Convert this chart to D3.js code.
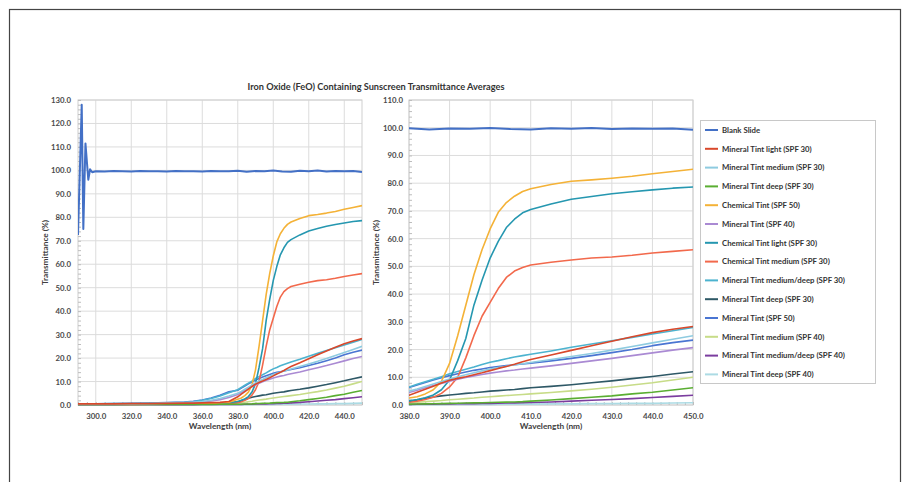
<!DOCTYPE html>
<html>
<head>
<meta charset="utf-8">
<script src="https://cdn.jsdelivr.net/npm/d3@7"></script>
<style>
  body { margin: 0; background: #fff; }
  svg { display: block; font-family: Lato, "Open Sans", sans-serif; }
</style>
</head>
<body>
<svg id="chart" width="912" height="482"></svg>
<script>
// === DATA ===
const wavelengths = [290, 300, 310, 320, 330, 340, 350, 355, 360, 365, 370, 375, 380, 382, 384, 386, 388, 390, 392, 394, 396, 398, 400, 402, 404, 406, 408, 410, 415, 420, 425, 430, 435, 440, 445, 450];

const blankWavelengths = [290, 292.1, 293, 294.2, 295.8, 296.8, 298, 300, 305, 310, 315, 320, 325, 330, 335, 340, 345, 350, 355, 360, 365, 370, 375, 380, 385, 390, 395, 400, 405, 410, 415, 420, 425, 430, 435, 440, 445, 450];
const blankSlide = [72.5, 128, 75, 111.5, 96, 100.5, 99.2, 99.6, 99.5, 99.7, 99.6, 99.5, 99.7, 99.6, 99.6, 99.5, 99.7, 99.6, 99.6, 99.5, 99.7, 99.6, 99.6, 99.8, 99.4, 99.7, 99.6, 99.9, 99.5, 99.4, 99.8, 99.6, 99.9, 99.5, 99.7, 99.6, 99.7, 99.3];

const mineralLight30   = [0.5, 0.5, 0.5, 0.6, 0.6, 0.7, 0.8, 0.8, 0.9, 1.0, 1.1, 1.5, 3.5, 4.6, 5.7, 6.8, 7.9, 8.9, 9.6, 10.2, 10.9, 11.6, 12.4, 13.2, 13.9, 14.7, 15.6, 16.4, 18.0, 19.7, 21.4, 23.0, 24.6, 26.1, 27.3, 28.3];
const mineralMedium30  = [0.4, 0.4, 0.5, 0.5, 0.6, 0.8, 1.0, 1.2, 1.5, 2.0, 2.8, 3.8, 5.0, 5.8, 6.7, 7.6, 8.5, 9.4, 10.2, 10.9, 11.6, 12.3, 13.0, 13.5, 14.0, 14.5, 14.9, 15.3, 16.4, 17.5, 18.6, 19.8, 21.1, 22.4, 23.7, 25.0];
const mineralDeep30    = [0.2, 0.2, 0.2, 0.2, 0.2, 0.2, 0.2, 0.2, 0.2, 0.2, 0.3, 0.3, 0.3, 0.35, 0.4, 0.45, 0.5, 0.6, 0.65, 0.7, 0.75, 0.8, 0.9, 1.0, 1.05, 1.1, 1.2, 1.4, 1.8, 2.3, 2.8, 3.3, 4.0, 4.6, 5.4, 6.2];
const chemical50       = [0.3, 0.3, 0.3, 0.3, 0.4, 0.4, 0.5, 0.5, 0.6, 0.7, 0.9, 1.2, 2.5, 3.0, 4.0, 5.5, 8.5, 15, 25, 36, 47, 56, 63.5, 69.5, 73, 75.3, 77, 78, 79.5, 80.7, 81.2, 81.8, 82.5, 83.4, 84.2, 85];
const mineral40        = [0.4, 0.4, 0.4, 0.5, 0.5, 0.7, 0.9, 1.1, 1.3, 1.7, 2.3, 3.2, 4.5, 5.3, 6.2, 7.0, 7.8, 8.6, 9.3, 9.9, 10.5, 11.0, 11.5, 11.9, 12.3, 12.6, 13.0, 13.3, 14.1, 15.0, 15.9, 16.8, 17.8, 18.8, 19.8, 20.7];
const chemicalLight30  = [0.2, 0.2, 0.2, 0.3, 0.3, 0.3, 0.4, 0.4, 0.5, 0.6, 0.7, 1.0, 1.5, 2.0, 2.6, 3.6, 5.5, 9, 16, 24, 36, 45, 53, 59, 64, 67, 69.3, 70.5, 72.5, 74.2, 75.2, 76.2, 76.9, 77.6, 78.2, 78.6];
const chemicalMedium30 = [0.2, 0.2, 0.2, 0.2, 0.3, 0.3, 0.3, 0.4, 0.4, 0.5, 0.6, 0.8, 1.0, 1.4, 2.0, 2.8, 4.2, 6.5, 10, 17, 25, 32, 37, 42, 46, 48.3, 49.6, 50.5, 51.5, 52.3, 53, 53.4, 54, 54.8, 55.4, 56];
const mineralMedDeep30 = [0.5, 0.5, 0.6, 0.6, 0.7, 0.9, 1.2, 1.5, 2.0, 2.8, 3.8, 5.2, 6.5, 7.5, 8.4, 9.3, 10.2, 11.3, 12.1, 12.9, 13.7, 14.6, 15.4, 16.0, 16.7, 17.3, 17.8, 18.3, 19.5, 20.8, 22.0, 23.2, 24.4, 25.6, 26.8, 28.0];
const mineralDeep30b   = [0.3, 0.3, 0.3, 0.3, 0.3, 0.3, 0.4, 0.4, 0.4, 0.5, 0.5, 0.7, 1.2, 1.8, 2.4, 2.9, 3.3, 3.6, 3.9, 4.2, 4.4, 4.7, 5.0, 5.2, 5.4, 5.6, 5.9, 6.2, 6.7, 7.3, 8.0, 8.7, 9.5, 10.3, 11.2, 12.0];
const mineral50        = [0.5, 0.5, 0.6, 0.7, 0.8, 1.0, 1.3, 1.6, 2.1, 3.0, 4.2, 5.6, 6.3, 7.2, 8.1, 9.0, 9.8, 10.6, 11.3, 11.9, 12.5, 13.0, 13.5, 13.9, 14.2, 14.5, 14.8, 15.1, 15.9, 16.8, 17.8, 18.9, 20.0, 21.4, 22.5, 23.4];
const mineralMedium40  = [0.2, 0.2, 0.2, 0.2, 0.2, 0.3, 0.3, 0.3, 0.3, 0.4, 0.4, 0.5, 0.8, 1.0, 1.2, 1.4, 1.6, 1.9, 2.1, 2.3, 2.5, 2.8, 3.0, 3.2, 3.4, 3.6, 3.8, 4.0, 4.5, 5.1, 5.7, 6.4, 7.2, 8.0, 9.0, 10.0];
const mineralMedDeep40 = [0.1, 0.1, 0.1, 0.1, 0.1, 0.1, 0.1, 0.1, 0.2, 0.2, 0.2, 0.2, 0.2, 0.25, 0.3, 0.3, 0.35, 0.4, 0.45, 0.5, 0.5, 0.55, 0.6, 0.65, 0.7, 0.75, 0.8, 0.9, 1.1, 1.4, 1.7, 2.0, 2.3, 2.7, 3.1, 3.5];
const mineralDeep40    = [0.1, 0.1, 0.1, 0.1, 0.1, 0.1, 0.1, 0.1, 0.1, 0.1, 0.1, 0.1, 0.1, 0.1, 0.1, 0.1, 0.1, 0.2, 0.2, 0.2, 0.2, 0.2, 0.2, 0.3, 0.3, 0.3, 0.3, 0.3, 0.4, 0.4, 0.5, 0.5, 0.6, 0.6, 0.7, 0.8];

const seriesNames = [
  "Blank Slide", "Mineral Tint light (SPF 30)", "Mineral Tint medium (SPF 30)", "Mineral Tint deep (SPF 30)",
  "Chemical Tint (SPF 50)", "Mineral Tint (SPF 40)", "Chemical Tint light (SPF 30)", "Chemical Tint medium (SPF 30)",
  "Mineral Tint medium/deep (SPF 30)", "Mineral Tint deep (SPF 30)", "Mineral Tint (SPF 50)", "Mineral Tint medium (SPF 40)",
  "Mineral Tint medium/deep (SPF 40)", "Mineral Tint deep (SPF 40)"
];
const seriesColors = [
  "#4370c6", "#d9482b", "#8ecbe0", "#5aae32", "#f4b237", "#aa8ad3", "#2597b0", "#f2694c",
  "#4cb3cf", "#2e5866", "#4a75d2", "#c7dc88", "#7b3d9f", "#acdbe4"
];
const seriesValues = [
  blankSlide, mineralLight30, mineralMedium30, mineralDeep30, chemical50, mineral40, chemicalLight30, chemicalMedium30,
  mineralMedDeep30, mineralDeep30b, mineral50, mineralMedium40, mineralMedDeep40, mineralDeep40
];

const leftXTicks = [300, 320, 340, 360, 380, 400, 420, 440];
const rightXTicks = [380, 390, 400, 410, 420, 430, 440, 450];
const chartTitle = "Iron Oxide (FeO) Containing Sunscreen Transmittance Averages";
const xTitle = "Wavelength (nm)";
const yTitle = "Transmittance (%)";

// pair each series with its x-values
const series = seriesNames.map((name, i) => ({
  name: name,
  color: seriesColors[i],
  points: seriesValues[i].map((v, j) => ({ w: i === 0 ? blankWavelengths[j] : wavelengths[j], v: v }))
}));

const svg = d3.select("#chart");

// === outer frame ===
svg.append("rect")
  .attr("x", 9.5).attr("y", 9.5)
  .attr("width", 891).attr("height", 490)
  .attr("fill", "none")
  .attr("stroke", "#444")
  .attr("stroke-width", 1.2);

// === title ===
svg.append("text")
  .attr("x", 376).attr("y", 90)
  .attr("text-anchor", "middle")
  .attr("font-size", "9.2px")
  .attr("font-weight", "bold")
  .attr("fill", "#333")
  .text(chartTitle);

function renderPanel(opts) {
  const x = d3.scaleLinear().domain(opts.xDomain).range([opts.left, opts.right]);
  const y = d3.scaleLinear().domain(opts.yDomain).range([opts.bottom, opts.top]);
  const g = svg.append("g");

  const clipId = "clip-" + opts.id;
  g.append("clipPath").attr("id", clipId)
    .append("rect")
    .attr("x", opts.left).attr("y", opts.top - 2)
    .attr("width", opts.right - opts.left).attr("height", opts.bottom - opts.top + 4);

  // grid
  g.append("g").selectAll("line")
    .data(opts.xTicks)
    .join("line")
    .attr("x1", d => x(d)).attr("x2", d => x(d))
    .attr("y1", opts.top).attr("y2", opts.bottom)
    .attr("stroke", "#dcdcdc");

  g.append("g").selectAll("line")
    .data(d3.range(opts.yDomain[0], opts.yDomain[1] + 1, 10))
    .join("line")
    .attr("x1", opts.left).attr("x2", opts.right)
    .attr("y1", d => y(d)).attr("y2", d => y(d))
    .attr("stroke", "#dcdcdc");

  g.append("rect")
    .attr("x", opts.left).attr("y", opts.top)
    .attr("width", opts.right - opts.left).attr("height", opts.bottom - opts.top)
    .attr("fill", "none")
    .attr("stroke", "#cfcfcf");

  // minor ticks
  const xMinor = g.append("g")
    .attr("transform", `translate(0, ${opts.bottom})`)
    .call(d3.axisBottom(x).tickValues(d3.range(opts.xDomain[0], opts.xDomain[1] + 0.01, opts.xMinorStep)).tickSize(-3).tickFormat(""));
  xMinor.select(".domain").remove();
  xMinor.selectAll("line").attr("stroke", "#bdbdbd");

  const yMinor = g.append("g")
    .attr("transform", `translate(${opts.left}, 0)`)
    .call(d3.axisLeft(y).tickValues(d3.range(opts.yDomain[0], opts.yDomain[1] + 0.01, 2)).tickSize(-3).tickFormat(""));
  yMinor.select(".domain").remove();
  yMinor.selectAll("line").attr("stroke", "#bdbdbd");

  // axes labels
  const xAxis = g.append("g")
    .attr("transform", `translate(0, ${opts.bottom})`)
    .call(d3.axisBottom(x).tickValues(opts.xTicks).tickSize(0).tickPadding(8).tickFormat(d3.format(".1f")));
  xAxis.select(".domain").remove();

  const yAxis = g.append("g")
    .attr("transform", `translate(${opts.left}, 0)`)
    .call(d3.axisLeft(y).tickValues(d3.range(opts.yDomain[0], opts.yDomain[1] + 1, 10)).tickSize(0).tickPadding(opts.yPad).tickFormat(d3.format(".1f")));
  yAxis.select(".domain").remove();

  g.selectAll(".tick text")
    .attr("font-family", "Lato, 'Open Sans', sans-serif")
    .attr("font-size", "7.8px")
    .attr("font-weight", "bold")
    .attr("fill", "#4a4a4a");

  // axis titles
  g.append("text")
    .attr("x", (opts.left + opts.right) / 2)
    .attr("y", opts.bottom + 24)
    .attr("text-anchor", "middle")
    .attr("font-size", "8.3px")
    .attr("font-weight", "bold")
    .attr("fill", "#404040")
    .text(xTitle);

  g.append("text")
    .attr("transform", `translate(${opts.yTitleX}, ${(opts.top + opts.bottom) / 2}) rotate(-90)`)
    .attr("text-anchor", "middle")
    .attr("dy", "0.35em")
    .attr("font-size", "8.3px")
    .attr("font-weight", "bold")
    .attr("fill", "#404040")
    .text(yTitle);

  // lines
  const linePath = d3.line()
    .x(d => x(d.w))
    .y(d => y(d.v));

  g.append("g")
    .attr("clip-path", `url(#${clipId})`)
    .selectAll("path")
    .data(series.slice().reverse())
    .join("path")
    .attr("d", d => linePath(d.points))
    .attr("fill", "none")
    .attr("stroke", d => d.color)
    .attr("stroke-width", d => d.name === "Blank Slide" ? 2 : 1.6)
    .attr("stroke-linejoin", "round");
}

renderPanel({ id: "left", xDomain: [290, 450], yDomain: [0, 130], left: 78, right: 362, top: 100, bottom: 405,
  xTicks: leftXTicks, xMinorStep: 5, yPad: 7, yTitleX: 45 });

renderPanel({ id: "right", xDomain: [380, 450], yDomain: [0, 110], left: 409, right: 693, top: 100, bottom: 405,
  xTicks: rightXTicks, xMinorStep: 2, yPad: 6, yTitleX: 376 });

// === legend ===
const legend = svg.append("g");
legend.append("rect")
  .attr("x", 700.5).attr("y", 120.5)
  .attr("width", 175).attr("height", 263)
  .attr("fill", "#fff")
  .attr("stroke", "#c8c8c8");

const legendItems = legend.selectAll(".legend-item")
  .data(series)
  .join("g")
  .attr("class", "legend-item")
  .attr("transform", (d, i) => `translate(0, ${130 + i * 18.8})`);

legendItems.append("line")
  .attr("x1", 705).attr("x2", 718)
  .attr("stroke", d => d.color)
  .attr("stroke-width", 2);

legendItems.append("text")
  .attr("x", 722)
  .attr("dy", "0.35em")
  .attr("font-size", "7.8px")
  .attr("font-weight", "bold")
  .attr("fill", "#333")
  .text(d => d.name);
</script>
</body>
</html>
